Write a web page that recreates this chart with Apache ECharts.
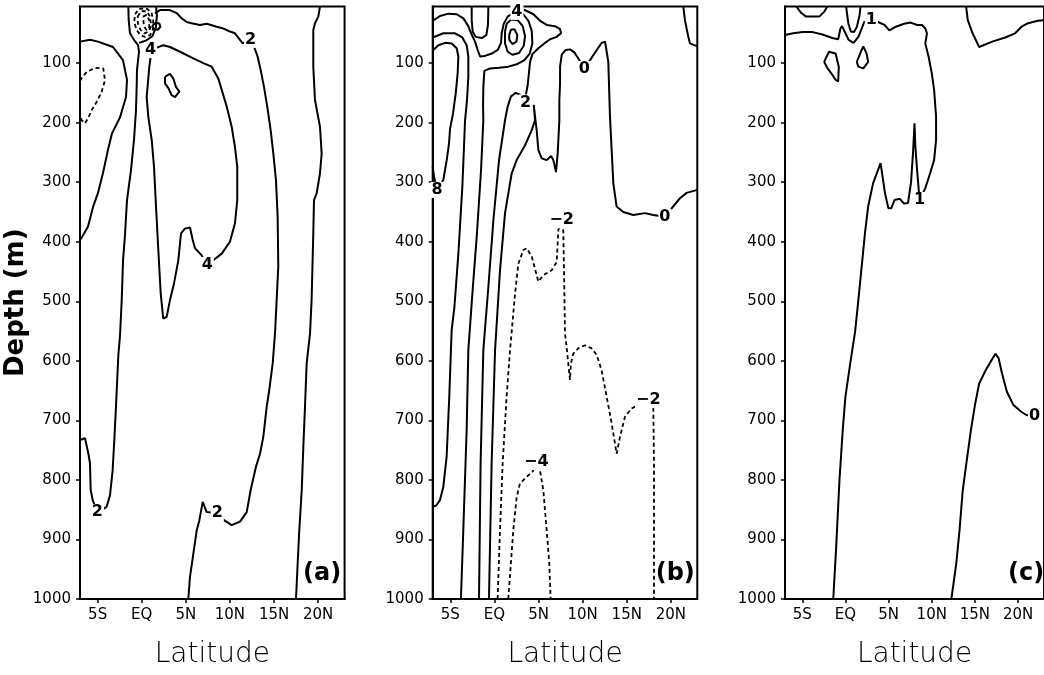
<!DOCTYPE html>
<html>
<head>
<meta charset="utf-8">
<script src="https://cdn.jsdelivr.net/npm/echarts@6.0.0/dist/echarts.min.js"></script>
<style>
  html, body { margin: 0; padding: 0; background: #fff; }
  #main { width: 1044px; height: 675px; }
</style>
</head>
<body>
<div id="main"></div>
<script>
// axis ticks
const depthTicks = [100, 200, 300, 400, 500, 600, 700, 800, 900, 1000]
const latTicks = [-5, 0, 5, 10, 15, 20]
const latTickLabels = ['5S', 'EQ', '5N', '10N', '15N', '20N']

// ---- panel (a) contours, [latitude, depth] ----
const aWestZero = [[-7,64],[-5.87,61],[-4.96,64],[-3.26,73],[-2.13,95],[-1.67,128],[-1.78,157],[-2.46,191],[-3.37,218],[-3.83,246],[-4.4,285],[-4.96,318],[-5.53,342],[-6.1,375],[-6.77,392],[-7,397]]
const aWestNeg = [[-7,130],[-6.81,125],[-6.24,115],[-5.3,108],[-4.36,109],[-4.17,129],[-4.54,148],[-5.1,165],[-5.67,179],[-6.06,192],[-6.43,201],[-6.81,196],[-7,184]]
const aWestTwo = [[-1.52,5],[-1.48,28],[-1.33,50],[-0.88,61],[-0.42,70],[-0.31,81],[-0.54,112],[-0.57,137],[-0.65,179],[-0.88,229],[-1.22,280],[-1.67,330],[-1.9,389],[-2.12,431],[-2.27,498],[-2.46,557],[-2.65,590],[-2.96,689],[-3.11,733],[-3.3,784],[-3.6,826],[-3.98,845],[-4.54,851],[-5.03,854],[-5.56,834],[-5.79,817],[-5.87,772],[-6.05,756],[-6.43,730],[-7,733]]
const aRing = [[1.62,5],[1.72,20],[1.6,40],[1.2,55],[0.5,62],[-0.3,66]]
const aFour = [[1.0,78],[1.02,89],[0.86,106],[0.56,157],[0.74,190],[1.13,229],[1.39,274],[1.62,341],[1.88,414],[2.15,487],[2.44,529],[2.83,526],[3.2,498],[3.66,470],[4.15,431],[4.45,386],[4.9,378],[5.47,376],[5.78,397],[6.04,411],[6.8,423],[7.43,439],[8.11,431],[9.07,420],[10.0,400],[10.57,369],[10.83,330],[10.83,274],[10.57,241],[10.2,207],[9.63,173],[9.07,145],[8.68,126],[7.93,106],[6.98,100],[5.85,92],[4.34,81],[3.2,73],[2.44,70],[1.7,74],[1.39,78]]
const aEastTwo = [[1.5,16],[2.07,11],[3.2,11],[3.96,16],[4.53,25],[5.1,31],[5.66,33],[6.6,36],[7.37,34],[8.5,39],[9.25,42],[10.0,47],[10.57,50],[11.14,61],[11.45,67],[12.35,61],[12.65,70],[13.1,87],[13.49,112],[13.86,140],[14.23,173],[14.62,213],[14.92,252],[15.22,297],[15.41,358],[15.48,442],[15.11,554],[14.85,604],[14.46,649],[14.17,677],[13.78,728],[13.41,756],[12.95,778],[12.35,817],[11.9,854],[11.14,870],[10.2,876],[9.06,865],[8.57,856],[7.36,854],[6.91,837],[6.53,868],[6.23,885],[5.47,963],[5.28,1000]]
const aFarEast = [[20.21,5],[20.02,22],[19.64,33],[19.45,45],[19.45,106],[19.64,162],[20.21,207],[20.4,252],[20.21,285],[19.83,319],[19.53,330],[19.45,386],[19.26,498],[19.08,554],[18.7,604],[18.51,677],[18.32,745],[18.14,817],[17.86,885],[17.68,940],[17.49,1000]]
const aSmallLoop = [[1.18,38],[1.56,32],[2.01,34],[2.12,39],[1.83,44],[1.38,43],[1.18,38]]
const aDiamond = [[2.64,123],[3.2,118],[3.58,126],[3.88,140],[4.26,148],[3.77,157],[3.39,154],[3.02,142],[2.64,134],[2.64,123]]
const aCoreNeg1 = [[-0.75,18],[-0.35,9],[0.5,8],[1.1,15],[1.3,28],[1.25,44],[0.95,53],[0.35,56],[-0.15,53],[-0.6,44],[-0.85,31],[-0.75,18]]
const aCoreNeg2 = [[-0.45,22],[-0.1,13],[0.55,13],[0.95,22],[1.05,37],[0.8,47],[0.3,50],[-0.15,44],[-0.45,32],[-0.45,22]]
const aCoreNeg3 = [[0.15,22],[0.55,19],[0.85,28],[0.85,40],[0.55,45],[0.25,38],[0.15,22]]
const labelsA = [[12.35,61,'2'],[1.0,78,'4'],[7.43,439,'4'],[-5.03,854,'2'],[8.57,856,'2']]

// ---- panel (b) contours ----
const bEight = [[-6.93,78],[-6.36,70],[-5.6,66],[-4.85,67],[-4.28,75],[-4.09,89],[-4.17,117],[-4.39,151],[-4.7,185],[-5.03,210],[-5.15,235],[-5.41,263],[-5.79,296],[-6.5,313],[-6.81,294],[-6.93,282],[-7,274]]
const bSix = [[-7,57],[-5.79,50],[-4.47,50],[-3.64,57],[-3.15,70],[-2.96,89],[-2.96,123],[-3.11,162],[-3.33,196],[-3.64,308],[-4.09,420],[-4.54,510],[-4.85,548],[-5.12,660],[-5.42,761],[-5.8,812],[-6.18,834],[-6.6,843],[-7,845]]
const bFour = [[-7,29],[-6.17,21],[-5.22,17],[-4.28,18],[-3.52,25],[-2.96,38],[-2.65,50],[-2.2,64],[-1.9,78],[-1.63,89],[-1.07,88],[-0.31,84],[0.37,78],[0.75,66],[0.82,50],[1.05,34],[1.5,22],[2.03,17],[2.55,14],[3.28,18],[3.85,29],[4.23,46],[4.3,67],[4.0,84],[3.39,95],[2.52,102],[1.58,106],[0.52,108],[-0.5,109],[-1.14,113],[-1.26,140],[-1.29,173],[-1.26,196],[-1.52,280],[-2.01,392],[-2.5,487],[-2.96,582],[-3.15,716],[-3.53,884],[-3.8,1000]]
const bValley = [[-2.58,5],[-2.58,28],[-2.47,47],[-2.13,56],[-1.45,58],[-0.92,53],[-0.73,36],[-0.69,5]]
const bBumpOuter = [[1.2,47],[1.39,34],[1.88,27],[2.64,28],[3.21,38],[3.47,55],[3.32,71],[2.79,83],[2.03,86],[1.5,81],[1.2,67],[1.2,47]]
const bBumpInner = [[1.66,53],[1.88,44],[2.26,43],[2.6,53],[2.49,64],[2.03,68],[1.69,61],[1.66,53]]
const bTwo = [[3.3,10],[4.42,18],[5.17,29],[5.93,36],[6.87,38],[7.44,43],[7.55,50],[7.06,56],[6.31,60],[5.66,67],[4.98,75],[4.3,85],[4.04,98],[3.92,115],[3.77,137],[3.58,152],[3.52,166],[2.9,153],[2.41,150],[1.88,156],[1.5,173],[1.2,196],[0.52,263],[-0.12,364],[-0.69,476],[-1.26,582],[-1.57,773],[-1.75,1000]]
const bZero = [[-0.62,1000],[-0.32,773],[0.07,582],[0.63,448],[1.2,352],[1.96,285],[2.52,263],[3.47,238],[4.22,213],[4.6,196],[4.45,170],[4.79,213],[4.98,246],[5.36,260],[5.93,263],[6.42,256],[6.68,263],[6.98,283],[7.17,252],[7.36,196],[7.36,162],[7.44,134],[7.44,106],[7.63,86],[8.08,78],[8.57,77],[9.06,82],[9.59,94],[10.2,110],[10.84,95],[11.6,78],[12.16,66],[12.54,64],[12.72,66],[12.91,98],[13.1,190],[13.48,302],[13.85,341],[14.61,350],[15.74,355],[17.07,352],[18.01,355],[19.33,358],[20.09,344],[21.03,327],[21.79,318],[23,313]]
const bCorner = [[21.41,5],[21.6,28],[21.98,56],[22.17,67],[23,72]]
const bNegTwo = [[0.36,1000],[0.63,884],[0.93,773],[1.38,660],[1.77,582],[2.34,487],[2.71,437],[3.28,414],[3.66,411],[4.23,425],[4.98,467],[5.55,456],[6.49,448],[7.06,434],[7.25,380],[7.63,364],[7.81,383],[7.88,442],[8.0,554],[8.18,576],[8.37,604],[8.56,632],[8.68,604],[8.94,588],[9.51,579],[10.26,574],[11.02,579],[11.59,590],[12.15,616],[12.72,660],[13.29,705],[13.85,756],[14.23,728],[14.8,694],[15.55,680],[17.44,666],[18.01,677],[18.09,773],[18.09,1000]]
const bNegFour = [[1.57,1000],[2.14,884],[2.52,829],[2.89,806],[3.65,795],[4.33,786],[4.75,770],[5.16,784],[5.54,817],[5.92,884],[6.22,940],[6.37,1000]]
const labelsB = [[-6.5,313,'8'],[2.55,14,'4'],[3.52,166,'2'],[10.2,110,'0'],[19.33,358,'0'],[7.63,364,'−2'],[17.44,666,'−2'],[4.75,770,'−4']]

// ---- panel (c) contours ----
const cCap = [[-5.68,5],[-5.11,16],[-4.55,22],[-3.03,22],[-2.47,14],[-2.09,5]]
const cOne = [[-7,53],[-6.06,50],[-4.92,48],[-3.79,48],[-2.66,52],[-1.52,58],[-0.84,60],[-0.58,42],[-0.39,38],[-0.09,47],[0.37,61],[0.94,66],[1.5,56],[1.88,42],[2.18,31],[3.01,27],[3.77,31],[4.53,36],[5.09,45],[5.85,39],[6.79,34],[7.55,32],[8.31,36],[8.87,36],[9.25,42],[9.44,50],[9.25,67],[9.63,89],[10.0,117],[10.27,145],[10.5,190],[10.5,229],[10.27,263],[9.81,285],[9.25,310],[8.6,330],[8.49,313],[8.3,280],[8.1,240],[8.0,201],[7.83,250],[7.6,300],[7.25,335],[6.79,336],[6.31,328],[5.68,330],[5.3,344],[4.98,344],[4.6,320],[4.07,268],[3.2,302],[2.63,341],[2.26,386],[1.88,442],[1.42,509],[1.12,551],[0.56,604],[0,660],[-0.31,716],[-0.69,800],[-1.07,912],[-1.41,1000]]
const cLoopWest = [[-2.47,98],[-1.9,81],[-1.14,84],[-0.77,106],[-0.84,131],[-1.14,128],[-1.6,118],[-2.1,108],[-2.47,98]]
const cLoopEast = [[1.31,98],[1.88,78],[2.07,72],[2.45,84],[2.63,98],[2.07,109],[1.5,106],[1.31,98]]
const cNotch = [[0.08,5],[0.33,33],[0.62,47],[0.99,48],[1.31,40],[1.63,20],[1.75,5]]
const cCorner = [[13.98,5],[14.17,28],[14.73,50],[15.49,73],[17.0,64],[18.51,57],[19.65,50],[20.4,39],[21.16,33],[22.29,29],[23,28]]
const cZero = [[12.27,1000],[12.84,940],[13.22,884],[13.59,817],[14.16,756],[14.54,716],[15.03,672],[15.49,638],[16.24,616],[16.92,599],[17.37,588],[17.75,596],[18.13,621],[18.7,652],[19.45,674],[20.4,686],[20.96,691],[21.91,693]]
const labelsC = [[3.01,27,'1'],[8.6,330,'1'],[21.91,693,'0']]

const panelContours = [
  { solid: [aWestZero, aWestTwo, aRing, aFour, aEastTwo, aFarEast, aSmallLoop, aDiamond], dashed: [aWestNeg, aCoreNeg1, aCoreNeg2, aCoreNeg3], labels: labelsA },
  { solid: [bEight, bSix, bFour, bValley, bBumpOuter, bBumpInner, bTwo, bZero, bCorner], dashed: [bNegTwo, bNegFour], labels: labelsB },
  { solid: [cCap, cOne, cLoopWest, cLoopEast, cNotch, cCorner, cZero], dashed: [], labels: labelsC }
]

const font = 'DejaVu Sans'
const gridLefts = [80, 432.7, 785]

const myChart = echarts.init(document.getElementById('main'), null, { renderer: 'canvas' })

const grids = gridLefts.map((left) => {
  return { left: left, top: 6.5, width: 264.6, height: 592.5, show: true, borderColor: '#000', borderWidth: 2, backgroundColor: '#fff' }
})

const xAxes = gridLefts.map((left, i) => {
  return {
    type: 'value',
    gridIndex: i,
    min: -7,
    max: 23,
    name: 'Latitude',
    nameLocation: 'middle',
    nameGap: 42,
    nameTextStyle: { fontFamily: font, fontSize: 28, fontWeight: 300, color: '#000' },
    axisLine: { show: true, onZero: false, lineStyle: { color: '#000', width: 2 } },
    axisTick: { show: true, customValues: latTicks, length: 4, lineStyle: { color: '#000', width: 1.5 } },
    axisLabel: {
      customValues: latTicks,
      margin: 9,
      fontFamily: font,
      fontSize: 15,
      color: '#000',
      formatter: (v) => latTickLabels[latTicks.indexOf(v)]
    },
    splitLine: { show: false }
  }
})

const yAxes = gridLefts.map((left, i) => {
  const axis = {
    type: 'value',
    gridIndex: i,
    min: 5,
    max: 1000,
    inverse: true,
    axisLine: { show: true, onZero: false, lineStyle: { color: '#000', width: 2 } },
    axisTick: { show: true, customValues: depthTicks, length: 4, lineStyle: { color: '#000', width: 1.5 } },
    axisLabel: {
      customValues: depthTicks, margin: 9, fontFamily: font, fontSize: 15, color: '#000',
      formatter: (v) => String(v)
    },
    splitLine: { show: false }
  }
  if (i === 0) {
    axis.name = 'Depth (m)'
    axis.nameLocation = 'middle'
    axis.nameGap = 47
    axis.nameRotate = 90
    axis.nameTextStyle = { fontFamily: font, fontSize: 26, fontWeight: 'bold', color: '#000' }
  }
  return axis
})

const series = []
panelContours.forEach((panel, i) => {
  panel.solid.forEach((line) => {
    series.push({
      type: 'line', xAxisIndex: i, yAxisIndex: i, data: line,
      symbol: 'none', silent: true, z: 2,
      lineStyle: { color: '#000', width: 2 }
    })
  })
  panel.dashed.forEach((line) => {
    series.push({
      type: 'line', xAxisIndex: i, yAxisIndex: i, data: line,
      symbol: 'none', silent: true, z: 2,
      lineStyle: { color: '#000', width: 1.8, type: [4, 3] }
    })
  })
  series.push({
    type: 'scatter', xAxisIndex: i, yAxisIndex: i, data: panel.labels,
    symbol: 'rect', symbolSize: 1, silent: true, z: 5,
    itemStyle: { color: '#fff' },
    label: {
      show: true, position: 'inside',
      formatter: (p) => p.data[2],
      fontFamily: font, fontSize: 16, fontWeight: 'bold', color: '#000',
      textBorderWidth: 0, opacity: 1,
      backgroundColor: '#fff', padding: [0, 1]
    }
  })
})

const panelNames = ['(a)', '(b)', '(c)']
const graphic = panelNames.map((name, i) => {
  return {
    type: 'text',
    left: gridLefts[i] + 223,
    top: 562,
    z: 10,
    style: { text: name, font: 'bold 24px "DejaVu Sans"', fill: '#000' }
  }
})

const option = {
  animation: false,
  backgroundColor: '#fff',
  grid: grids,
  xAxis: xAxes,
  yAxis: yAxes,
  series: series,
  graphic: graphic
}

myChart.setOption(option)
</script>
</body>
</html>
